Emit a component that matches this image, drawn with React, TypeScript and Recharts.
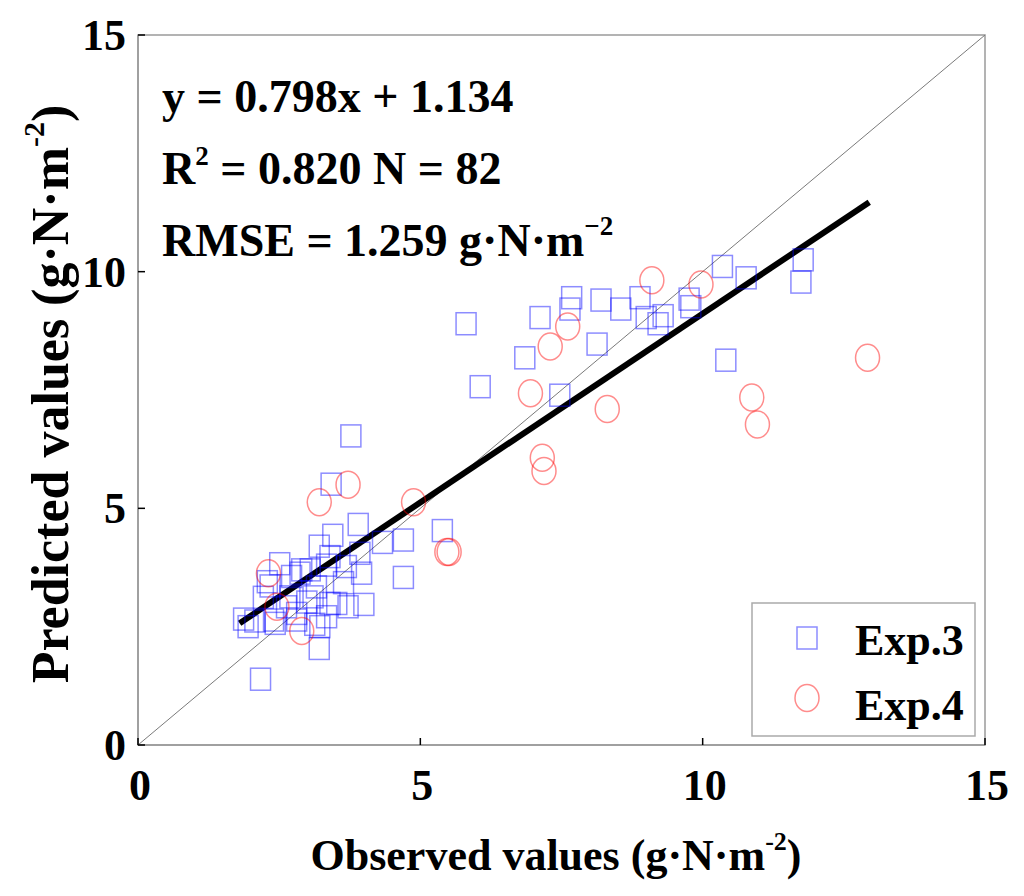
import React from "react";
import {
  ScatterChart, Scatter, XAxis, YAxis, ReferenceLine, ReferenceArea, Customized,
} from "recharts";

// Exp.3 (squares): [observed, predicted]
const exp3Points: [number, number][] = [
  [1.87, 2.66], [1.95, 2.50], [2.07, 2.62], [2.17, 1.39], [2.22, 3.12],
  [2.29, 3.45], [2.34, 3.36], [2.40, 2.64], [2.43, 2.57], [2.51, 3.83],
  [2.63, 2.92], [2.69, 3.13], [2.72, 3.56], [2.81, 2.64], [2.81, 2.78],
  [2.87, 3.63], [2.90, 3.70], [2.99, 3.02], [3.05, 3.70], [3.10, 3.13],
  [3.13, 2.55], [3.16, 3.34], [3.21, 2.04], [3.21, 4.20], [3.22, 2.50],
  [3.34, 2.71], [3.34, 3.80], [3.40, 2.99], [3.40, 3.98], [3.42, 5.51],
  [3.45, 4.43], [3.52, 2.99], [3.64, 3.43], [3.69, 3.77], [3.72, 2.92],
  [3.77, 6.53], [3.90, 4.66], [3.93, 4.05], [3.96, 3.63], [4.00, 2.97],
  [4.33, 4.28], [4.70, 4.33], [4.70, 3.54], [5.39, 4.53], [5.81, 8.90],
  [6.06, 7.57], [6.85, 8.18], [7.12, 9.03], [7.47, 7.39], [7.65, 9.21],
  [7.68, 9.45], [8.13, 8.47], [8.20, 9.40], [8.55, 9.21], [8.89, 9.45],
  [9.00, 9.03], [9.21, 8.90], [9.30, 9.07], [9.76, 9.42], [9.79, 9.26],
  [10.35, 10.11], [10.41, 8.13], [10.77, 9.87], [11.74, 9.78], [11.78, 10.25],
];

// Exp.4 (circles)
const exp4Points: [number, number][] = [
  [2.31, 3.63], [2.46, 2.92], [2.90, 2.41], [3.21, 5.13], [3.72, 5.50],
  [4.88, 5.13], [5.47, 4.08], [5.51, 4.08], [6.95, 7.43], [7.16, 6.07],
  [7.19, 5.79], [7.30, 8.42], [7.61, 8.84], [8.31, 7.10], [9.10, 9.82],
  [9.97, 9.73], [10.87, 7.34], [10.97, 6.77], [12.92, 8.18],
];

const axisTicks = [0, 5, 10, 15];
const SLOPE = 0.798;
const INTERCEPT = 1.134;
const FIT_RANGE = [1.8, 12.95];

const exp3Data = exp3Points.map(([x, y]) => ({ x, y }));
const exp4Data = exp4Points.map(([x, y]) => ({ x, y }));

const FONT = "'Liberation Serif', 'Times New Roman', serif";
const PLOT_LEFT = 138;
const PLOT_BOTTOM = 745;
const BLUE = "#0000ff";
const RED = "#ff0000";

const SquareMark = (props: any) => {
  const { cx, cy } = props;
  if (cx == null || cy == null) return null;
  return (
    <rect x={cx - 10} y={cy - 11} width={20} height={22} fill="none"
      stroke={BLUE} strokeOpacity={0.45} strokeWidth={1.5} />
  );
};

const CircleMark = (props: any) => {
  const { cx, cy } = props;
  if (cx == null || cy == null) return null;
  return (
    <ellipse cx={cx} cy={cy} rx={12} ry={13.5} fill="none"
      stroke={RED} strokeOpacity={0.45} strokeWidth={1.5} />
  );
};

const XTick = ({ x, payload }: any) => (
  <g>
    <line x1={x} x2={x} y1={PLOT_BOTTOM} y2={PLOT_BOTTOM - 7} stroke="#000" strokeWidth={1.5} />
    <text x={x + 2} y={800} textAnchor="middle" fontFamily={FONT} fontWeight="bold" fontSize={44} fill="#000">
      {payload.value}
    </text>
  </g>
);

const YTick = ({ y, payload }: any) => (
  <g>
    <line x1={PLOT_LEFT} x2={PLOT_LEFT + 7} y1={y} y2={y} stroke="#000" strokeWidth={1.5} />
    <text x={126} y={y + 15} textAnchor="end" fontFamily={FONT} fontWeight="bold" fontSize={44} fill="#000">
      {payload.value}
    </text>
  </g>
);

const Annotations = () => (
  <g fontFamily={FONT} fontWeight="bold" fill="#000">
    <text x={162} y={112} fontSize={46}>y = 0.798x + 1.134</text>
    <text x={162} y={184} fontSize={46}>
      R<tspan dy={-19} fontSize={27}>2</tspan><tspan dy={19}> = 0.820 N = 82</tspan>
    </text>
    <text x={162} y={256} fontSize={46}>
      RMSE = 1.259 g·N·m<tspan dy={-21} fontSize={27}>−2</tspan>
    </text>
    <text x={556} y={870} fontSize={44} textAnchor="middle">
      Observed values (g·N·m<tspan dy={-20} fontSize={26}>-2</tspan><tspan dy={20}>)</tspan>
    </text>
    <text transform="translate(68, 394) rotate(-90)" fontSize={52} textAnchor="middle">
      Predicted values (g·N·m<tspan dy={-24} fontSize={30}>-2</tspan><tspan dy={24}>)</tspan>
    </text>
    {/* legend */}
    <g transform="translate(752, 603)">
      <rect x={0} y={0} width={223} height={133} fill="#fff" stroke="#aaa" strokeWidth={1.5} />
      <rect x={45} y={24} width={20} height={22} fill="none" stroke={BLUE} strokeOpacity={0.45} strokeWidth={1.5} />
      <ellipse cx={55} cy={95} rx={12} ry={13.5} fill="none" stroke={RED} strokeOpacity={0.45} strokeWidth={1.5} />
      <text x={103} y={52} fontSize={44}>Exp.3</text>
      <text x={103} y={117} fontSize={44}>Exp.4</text>
    </g>
  </g>
);

export default function App() {
  return (
    <div style={{ position: "absolute", left: 0, top: 0, width: 1024, height: 896, background: "#fff" }}>
      <ScatterChart width={1024} height={896} margin={{ top: 35, right: 39, left: 0, bottom: 0 }}>
        <XAxis type="number" dataKey="x" domain={[0, 15]} ticks={axisTicks} height={151}
          axisLine={{ stroke: "#9a9a9a", strokeWidth: 1.5 }} tickLine={false} tick={<XTick />} allowDataOverflow />
        <YAxis type="number" dataKey="y" domain={[0, 15]} ticks={axisTicks} width={138}
          axisLine={{ stroke: "#9a9a9a", strokeWidth: 1.5 }} tickLine={false} tick={<YTick />} allowDataOverflow />
        <ReferenceArea x1={0} x2={15} y1={0} y2={15} fill="#fff" fillOpacity={0}
          stroke="#9a9a9a" strokeWidth={1.5} />
        <ReferenceLine segment={[{ x: 0, y: 0 }, { x: 15, y: 15 }]} stroke="#7a7a7a" strokeWidth={1} />
        <Scatter name="Exp.3" data={exp3Data} shape={<SquareMark />} isAnimationActive={false} />
        <Scatter name="Exp.4" data={exp4Data} shape={<CircleMark />} isAnimationActive={false} />
        <ReferenceLine
          segment={[
            { x: FIT_RANGE[0], y: SLOPE * FIT_RANGE[0] + INTERCEPT },
            { x: FIT_RANGE[1], y: SLOPE * FIT_RANGE[1] + INTERCEPT },
          ]}
          stroke="#000" strokeWidth={6}
        />
        <Customized component={Annotations} />
      </ScatterChart>
    </div>
  );
}
